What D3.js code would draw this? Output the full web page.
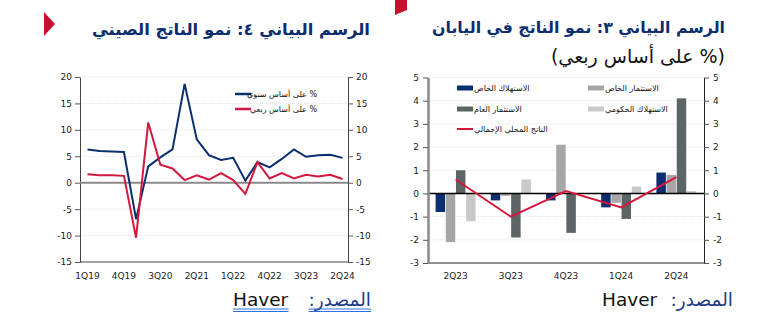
<!DOCTYPE html>
<html><head><meta charset="utf-8">
<script src="https://cdn.jsdelivr.net/npm/d3@7"></script>
<style>html,body{margin:0;padding:0;background:#fff;}svg{display:block;}</style>
</head><body>
<script>
// ---------- DATA ----------
const chinaQuarters = ['1Q19','2Q19','3Q19','4Q19','1Q20','2Q20','3Q20','4Q20','1Q21','2Q21','3Q21','4Q21','1Q22','2Q22','3Q22','4Q22','1Q23','2Q23','3Q23','4Q23','1Q24','2Q24'];
const chinaYoY = [6.3,6.0,5.9,5.8,-6.9,3.1,4.8,6.3,18.7,8.2,5.2,4.3,4.7,0.4,3.9,2.9,4.5,6.3,4.9,5.2,5.3,4.7];
const chinaQoQ = [1.6,1.4,1.4,1.3,-10.4,11.4,3.4,2.7,0.5,1.4,0.6,1.8,0.5,-2.1,3.9,0.8,1.8,0.8,1.5,1.2,1.5,0.7];
const chinaTicks = [-15,-10,-5,0,5,10,15,20];
const chinaLabelQuarters = ['1Q19','4Q19','3Q20','2Q21','1Q22','4Q22','3Q23','2Q24'];
const chinaSeriesNames = ['% على أساس سنوي','% على أساس ربعي'];

const japanQuarters = ['2Q23','3Q23','4Q23','1Q24','2Q24'];
const privateConsumption = [-0.8,-0.3,-0.3,-0.6,0.9];
const privateInvestment = [-2.1,-0.1,2.1,-0.4,0.8];
const publicInvestment = [1.0,-1.9,-1.7,-1.1,4.1];
const govConsumption = [-1.2,0.6,0.0,0.3,0.1];
const japanGDP = [0.6,-1.0,0.1,-0.6,0.7];
const japanTicks = [-3,-2,-1,0,1,2,3,4,5];
const japanBarNames = ['الاستهلاك الخاص','الاستثمار الخاص','الاستثمار العام','الاستهلاك الحكومي'];
const japanLineName = 'الناتج المحلي الإجمالي';

const titleChina = 'الرسم البياني ٤: نمو الناتج الصيني';
const titleJapan1 = 'الرسم البياني ٣: نمو الناتج في اليابان';
const titleJapan2 = '(% على أساس ربعي)';
const sourceLabel = 'المصدر:';
const sourceName = 'Haver';

// ---------- STYLE ----------
const NAVY = '#0b2e6f', RED = '#d4183d', MIDG = '#a6a6a6', DARKG = '#5d6466', LIGHTG = '#c9c9c9';
const barColors = [NAVY, MIDG, DARKG, LIGHTG];
const RLM = '\u200F';
const tickFont = 'DejaVu Sans';

const svg = d3.select('body').append('svg').attr('width',777).attr('height',336);

// ================= LEFT: CHINA =================
const L = {x0:80, x1:348, yTop:77, yBot:262};
const yL = d3.scaleLinear().domain([-15,20]).range([L.yBot, L.yTop]);
const xL = d3.scalePoint().domain(chinaQuarters).range([87.5, 342.5]);
const gL = svg.append('g');

gL.selectAll('line.grid').data(chinaTicks.filter(t=>t!==0 && t!==-15)).join('line')
  .attr('x1',L.x0).attr('x2',L.x1).attr('y1',d=>yL(d)).attr('y2',d=>yL(d))
  .attr('stroke','#e4e4e4').attr('stroke-width',1).attr('stroke-dasharray','1,1');

function styleAxis(g, color){
  g.selectAll('.domain').attr('stroke',color);
  g.selectAll('.tick line').attr('stroke','#555');
  g.selectAll('.tick text').attr('font-family',tickFont).attr('font-size',9).attr('fill','#222');
}
const axLl = gL.append('g').attr('transform',`translate(${L.x0},0)`)
  .call(d3.axisLeft(yL).tickValues(chinaTicks).tickSize(5).tickPadding(3).tickSizeOuter(0).tickFormat(d=>String(d)));
styleAxis(axLl,'#444');
const axLr = gL.append('g').attr('transform',`translate(${L.x1},0)`)
  .call(d3.axisRight(yL).tickValues(chinaTicks).tickSize(5).tickPadding(3).tickSizeOuter(0).tickFormat(d=>String(d)));
styleAxis(axLr,'#444');
gL.append('line').attr('x1',L.x0).attr('x2',L.x1).attr('y1',yL(-15)).attr('y2',yL(-15)).attr('stroke','#444');
gL.append('line').attr('x1',L.x0).attr('x2',L.x1).attr('y1',yL(0)).attr('y2',yL(0)).attr('stroke','#8a8a8a').attr('stroke-width',2);

gL.selectAll('text.xl').data(chinaLabelQuarters).join('text')
  .attr('x',d=>xL(d)).attr('y',279).attr('text-anchor','middle')
  .attr('font-family',tickFont).attr('font-size',9).attr('fill','#222').text(d=>d);

const lineL = d3.line().x((d,i)=>xL(chinaQuarters[i])).y(d=>yL(d));
gL.append('path').datum(chinaYoY).attr('d',lineL).attr('fill','none').attr('stroke',NAVY).attr('stroke-width',2);
gL.append('path').datum(chinaQoQ).attr('d',lineL).attr('fill','none').attr('stroke',RED).attr('stroke-width',2);

// legend
[NAVY, RED].forEach((c,i)=>{
  const y = 94 + i*15;
  gL.append('line').attr('x1',235).attr('x2',251).attr('y1',y).attr('y2',y).attr('stroke',c).attr('stroke-width',2.5);
  gL.append('text').attr('x',317).attr('y',y+3).attr('text-anchor','end')
    .attr('font-family',tickFont).attr('font-size',8).attr('fill','#111').text(RLM+chinaSeriesNames[i]);
});

// title
svg.append('polygon').attr('points','44,12 55,24 44,36').attr('fill','#c8102e');
svg.append('text').attr('x',370).attr('y',35).attr('text-anchor','end')
  .attr('font-family','DejaVu Sans').attr('font-weight','bold').attr('font-size',16.4).attr('fill',NAVY).text(RLM+titleChina);

// source (left)
const srcL = svg.append('g');
const tA = srcL.append('text').attr('x',371).attr('y',306).attr('direction','rtl').attr('text-anchor','start')
  .attr('font-family','DejaVu Sans').attr('font-size',18.5).attr('fill','#1f3c88').text(sourceLabel+RLM);
const tH = srcL.append('text').attr('x',233).attr('y',306).attr('text-anchor','start')
  .attr('font-family','DejaVu Sans').attr('font-size',18.5).attr('fill','#111').text(sourceName);
[tA, tH].forEach(t=>{
  const b = t.node().getBBox();
  [309,311.5].forEach(y=>srcL.append('line').attr('x1',b.x).attr('x2',b.x+b.width).attr('y1',y).attr('y2',y)
    .attr('stroke','#2f6fde').attr('stroke-width',1));
});

// ================= RIGHT: JAPAN =================
const R = {x0:428, x1:704, yTop:77.5, yBot:263};
const yR = d3.scaleLinear().domain([-3,5]).range([R.yBot, R.yTop]);
const x0 = d3.scaleBand().domain(japanQuarters).range([R.x0, R.x1]);
const bw = x0.bandwidth();
const x1 = d3.scaleBand().domain(d3.range(4)).range([(bw-40)/2, (bw+40)/2]).paddingInner(0.07);
const gR = svg.append('g');

gR.selectAll('line.grid').data(japanTicks.filter(t=>t!==0 && t!==-3)).join('line')
  .attr('x1',R.x0).attr('x2',R.x1).attr('y1',d=>yR(d)).attr('y2',d=>yR(d))
  .attr('stroke','#e4e4e4').attr('stroke-width',1).attr('stroke-dasharray','1,1');

const series = [privateConsumption, privateInvestment, publicInvestment, govConsumption];
series.forEach((vals,s)=>{
  gR.selectAll(`rect.s${s}`).data(vals).join('rect')
    .attr('x',(d,i)=>x0(japanQuarters[i])+x1(s)).attr('width',x1.bandwidth())
    .attr('y',d=>yR(Math.max(0,d))).attr('height',d=>Math.abs(yR(d)-yR(0)))
    .attr('fill',barColors[s]);
});

gR.append('line').attr('x1',R.x0).attr('x2',R.x1).attr('y1',yR(0)).attr('y2',yR(0)).attr('stroke','#000').attr('stroke-width',1.5);
gR.append('line').attr('x1',R.x0).attr('x2',R.x1).attr('y1',yR(-3)).attr('y2',yR(-3)).attr('stroke','#222');

const axRl = gR.append('g').attr('transform',`translate(${R.x0},0)`)
  .call(d3.axisLeft(yR).tickValues(japanTicks).tickSize(5).tickPadding(4).tickSizeOuter(0).tickFormat(d=>String(d)));
styleAxis(axRl,'#8a8a8a');
axRl.select('.domain').attr('stroke-width',2.5);
const axRr = gR.append('g').attr('transform',`translate(${R.x1},0)`)
  .call(d3.axisRight(yR).tickValues(japanTicks).tickSize(5).tickPadding(4).tickSizeOuter(0).tickFormat(d=>String(d)));
styleAxis(axRr,'#222');

gR.selectAll('text.xl').data(japanQuarters).join('text')
  .attr('x',d=>x0(d)+bw/2).attr('y',279).attr('text-anchor','middle')
  .attr('font-family',tickFont).attr('font-size',9).attr('fill','#222').text(d=>d);

const lineR = d3.line().x((d,i)=>x0(japanQuarters[i])+bw/2).y(d=>yR(d));
gR.append('path').datum(japanGDP).attr('d',lineR).attr('fill','none').attr('stroke',RED).attr('stroke-width',2);

// legend
const legPos = [[457,88],[588,88],[457,109],[588,109]];
japanBarNames.forEach((n,i)=>{
  const [x,y] = legPos[i];
  gR.append('rect').attr('x',x).attr('y',y-2.5).attr('width',16).attr('height',5).attr('fill',barColors[i]);
  gR.append('text').attr('x',x+17).attr('y',y+3).attr('font-family',tickFont).attr('font-size',8).attr('fill','#111').text(n);
});
gR.append('line').attr('x1',457).attr('x2',473).attr('y1',129).attr('y2',129).attr('stroke',RED).attr('stroke-width',2);
gR.append('text').attr('x',474).attr('y',132).attr('font-family',tickFont).attr('font-size',8).attr('fill','#111').text(japanLineName);

// title
svg.append('polygon').attr('points','395,0 407,0 407,10 395,15').attr('fill','#c8102e');
svg.append('text').attr('x',725).attr('y',33).attr('text-anchor','end')
  .attr('font-family','DejaVu Sans').attr('font-weight','bold').attr('font-size',15.8).attr('fill',NAVY).text(RLM+titleJapan1);
svg.append('text').attr('x',725).attr('y',63).attr('text-anchor','end')
  .attr('font-family','DejaVu Sans').attr('font-size',19).attr('fill','#111').text(RLM+titleJapan2);

// source (right)
svg.append('text').attr('x',733).attr('y',306).attr('direction','rtl').attr('text-anchor','start')
  .attr('font-family','DejaVu Sans').attr('font-size',18.5).attr('fill','#1f3c88').text(sourceLabel+RLM);
svg.append('text').attr('x',602).attr('y',306).attr('text-anchor','start')
  .attr('font-family','DejaVu Sans').attr('font-size',18.5).attr('fill','#111').text(sourceName);
</script>
</body></html>
